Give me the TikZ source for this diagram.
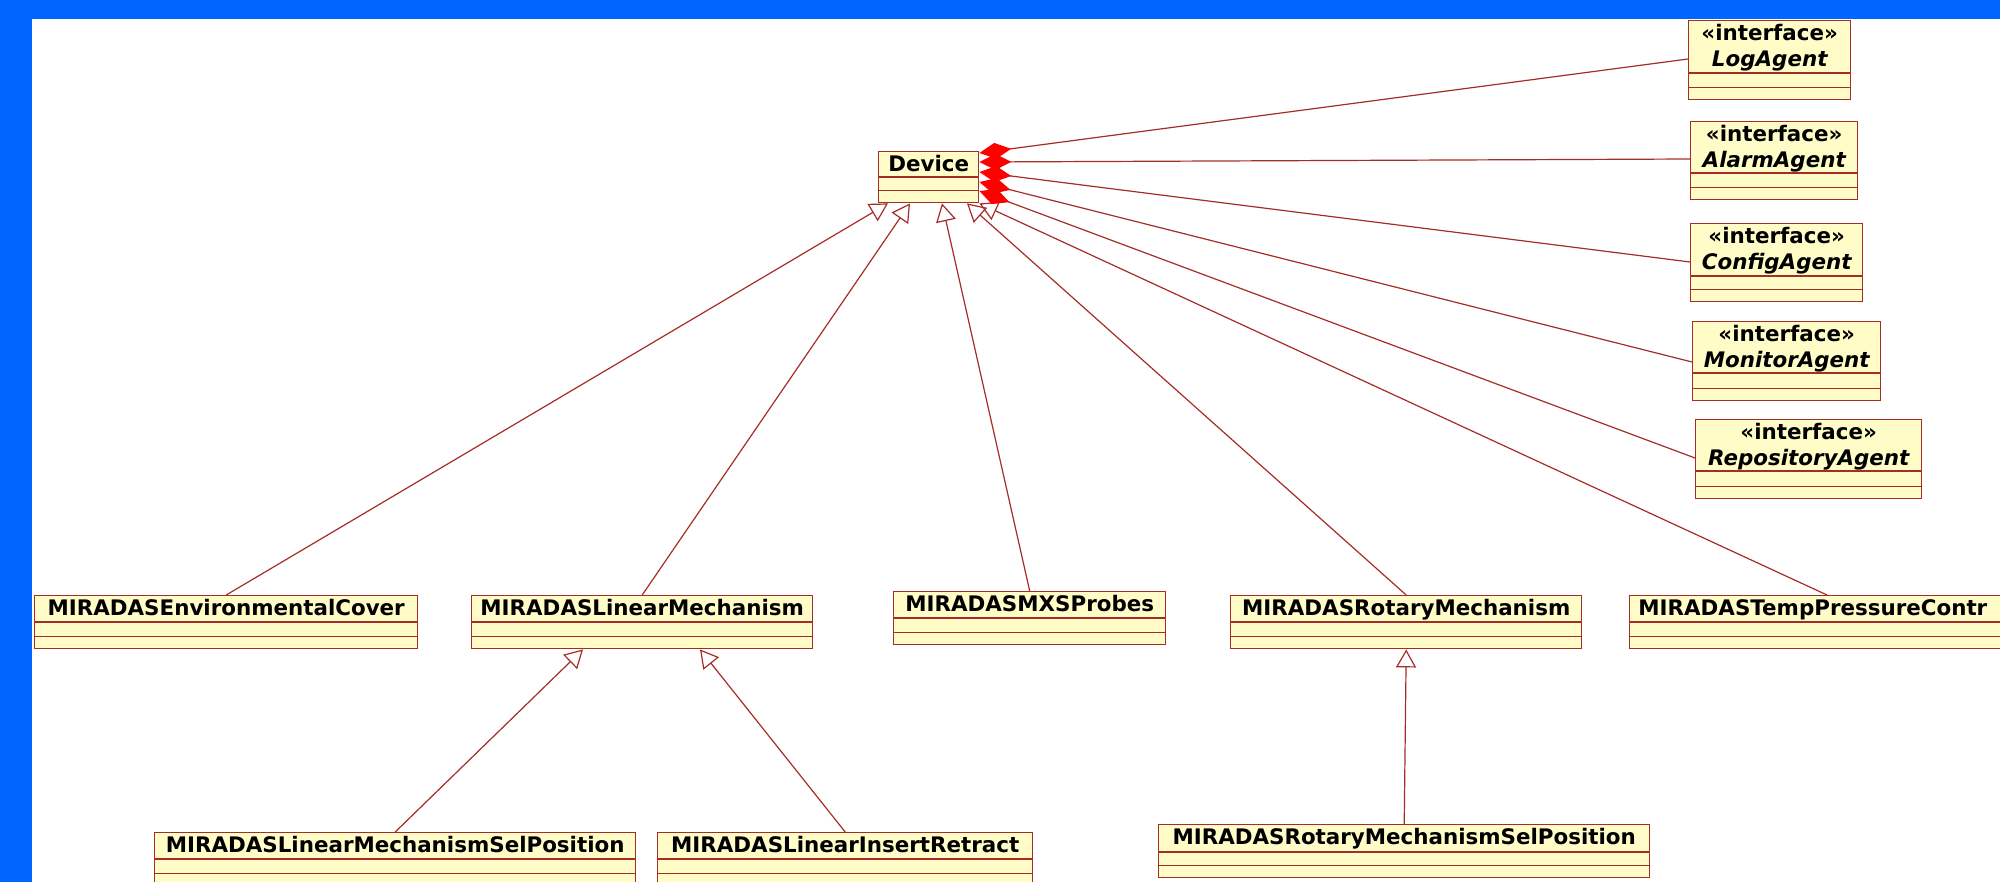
\documentclass[tikz,border=0pt]{standalone}
\usepackage{fontspec}
\setmainfont{DejaVu Sans}
\usepackage{tikz}
\usetikzlibrary{arrows.meta}
\definecolor{class area}{RGB}{255,252,200}
\definecolor{class edge}{RGB}{165,45,40}
\definecolor{frame blue}{RGB}{0,102,255}
\tikzset{classbox/.style={draw=class edge, fill=class area, line width=0.7pt, inner sep=0pt},
    classline/.style={draw=class edge, line width=0.7pt},
    classname/.style={inner xsep=4.5pt, inner ysep=2pt, align=center,
                      font=\fontsize{10.7}{13}\selectfont\bfseries},
    generalize/.style={draw=class edge, line width=0.6pt, -{Triangle[open, length=9pt, width=10pt]}},
    realize/.style={draw=class edge, line width=0.6pt, -{Diamond[length=16pt, width=8pt, color=red]}}}
% name, top left, width, height, name compartment (px), text
\newcommand{\umlclass}[7][north]{%
    \node[classbox, anchor=north west, minimum width=#4*0.5pt, minimum height=#5*0.5pt,
          label={[classname, anchor=#1]#1:{#7}}] (#2) at (#3) {};
    \draw[classline] ([yshift=-#6*0.5pt]#2.north west) -- ([yshift=-#6*0.5pt]#2.north east)
                     ([yshift=6.5pt]#2.south west) -- ([yshift=6.5pt]#2.south east);}

\begin{document}
\begin{tikzpicture}[x=0.5pt, y=-0.5pt]
    \useasboundingbox (0,0) rectangle (2000,882);
    \clip (0,0) rectangle (2000,882);
    \fill[white] (0,0) rectangle (2000,882);
    \fill[frame blue] (0,0) rectangle (2000,19);
    \fill[frame blue] (0,0) rectangle (32,882);

    \umlclass{dev}{878,151}{100}{51}{26}{Device}
    \umlclass{logag}{1688,20}{162}{79}{53}{«interface»\\\itshape LogAgent}
    \umlclass{alarmag}{1690,121}{167}{78}{52}{«interface»\\\itshape AlarmAgent}
    \umlclass{configag}{1690,223}{172}{78}{53}{«interface»\\\itshape ConfigAgent}
    \umlclass{monitorag}{1692,321}{188}{79}{52}{«interface»\\\itshape MonitorAgent}
    \umlclass{repoag}{1695,419}{226}{79}{52}{«interface»\\\itshape RepositoryAgent}

    \umlclass{env}{34,595}{383}{53}{27}{MIRADASEnvironmentalCover}
    \umlclass{linmech}{471,595}{341}{53}{27}{MIRADASLinearMechanism}
    \umlclass{mxs}{893,591}{272}{53}{27}{MIRADASMXSProbes}
    \umlclass{rotmech}{1230,595}{351}{53}{27}{MIRADASRotaryMechanism}
    \umlclass[north west]{tpc}{1629,595}{396}{53}{27}{MIRADASTempPressureContr}

    \umlclass{linsel}{154,832}{481}{53}{27}{MIRADASLinearMechanismSelPosition}
    \umlclass{linins}{657,832}{375}{53}{27}{MIRADASLinearInsertRetract}
    \umlclass{rotsel}{1158,824}{491}{53}{28}{MIRADASRotaryMechanismSelPosition}

    \draw[generalize] (env.north) -- ([xshift=5pt]dev.south west);
    \draw[generalize] (linmech.north) -- ([xshift=16pt]dev.south west);
    \draw[generalize] (mxs.north) -- ([xshift=32pt]dev.south west);
    \draw[generalize] (rotmech.north) -- ([xshift=44.5pt]dev.south west);
    \draw[generalize] ([xshift=99pt]tpc.north west) -- (dev.south east);
    \draw[generalize] (linsel.north) -- ([xshift=56pt]linmech.south west);
    \draw[generalize] (linins.north) -- ([xshift=114.5pt]linmech.south west);
    \draw[generalize] (rotsel.north) -- (rotmech.south);

    \foreach \agent/\from/\to in {logag/19.5/1, alarmag/19/5.5, configag/19.5/10.5,
                                  monitorag/20.5/15.5, repoag/19.5/20}
        \draw[realize] ([yshift=-\from pt]\agent.north west) -- ([yshift=-\to pt]dev.north east);
\end{tikzpicture}
\end{document}
